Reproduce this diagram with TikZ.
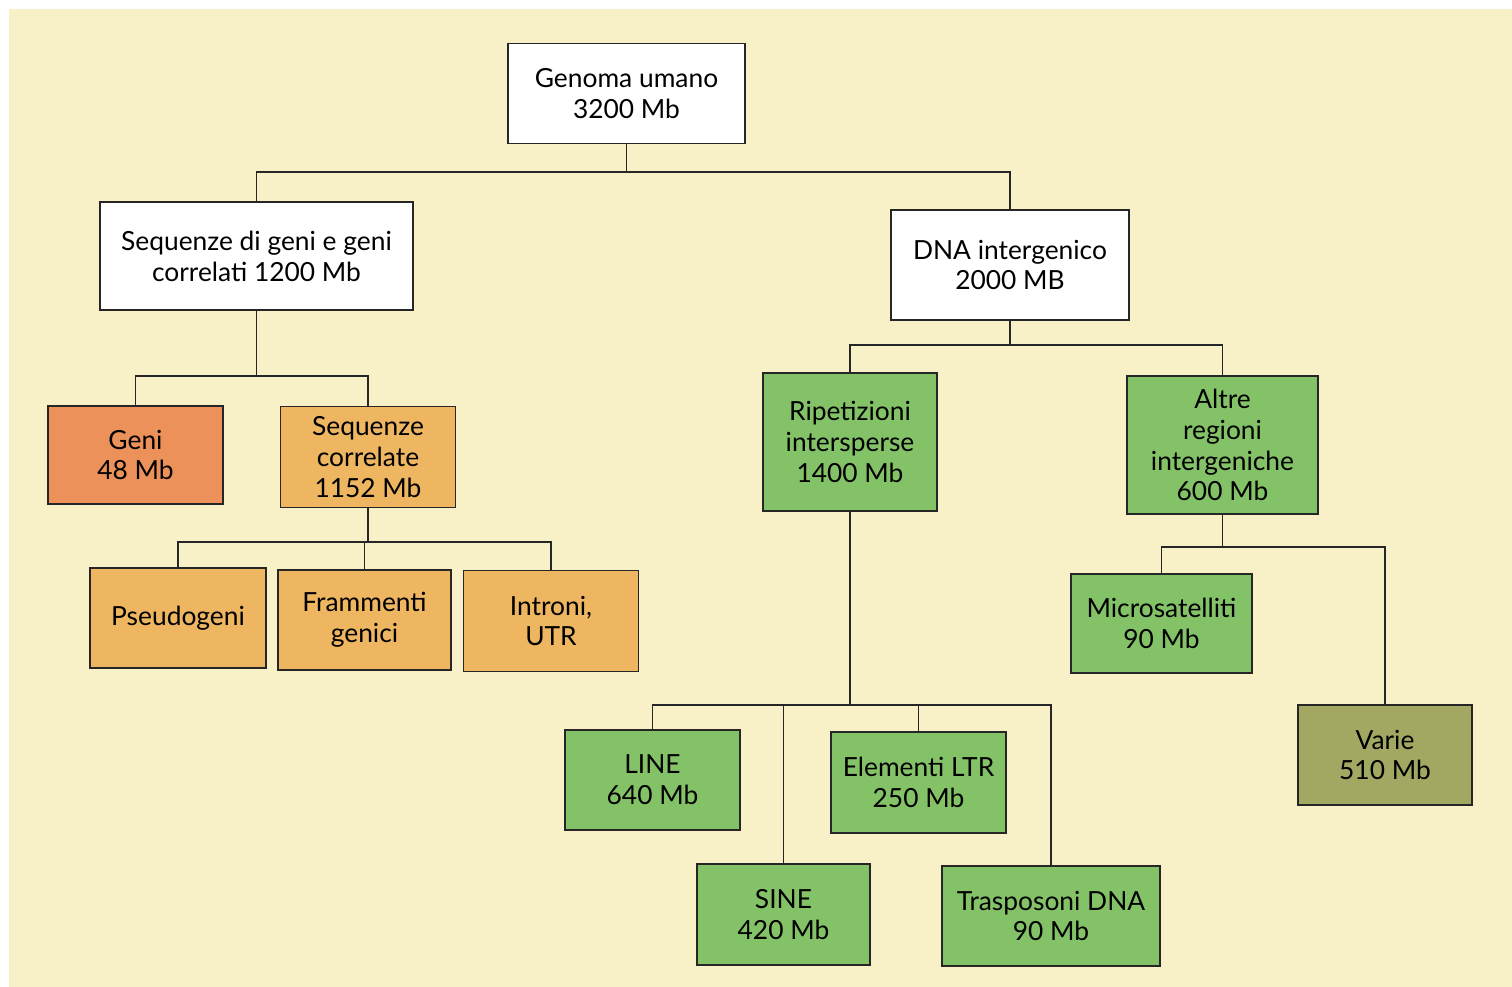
\documentclass[tikz,border=0pt]{standalone}
\usepackage{fontspec}
\setmainfont{Lato}
\usetikzlibrary{positioning}
\definecolor{paper}{HTML}{F8F1C8}
\definecolor{geneorange}{HTML}{EC9159}
\definecolor{seqorange}{HTML}{EEB660}
\definecolor{repgreen}{HTML}{84C268}
\definecolor{olive}{HTML}{A2A862}
\tikzset{
  box/.style={draw=black!85, line width=1.1pt, align=center, inner sep=2pt,
    font=\fontsize{15}{17.6}\selectfont},
  link/.style={line width=0.9pt, black!85}
}
\begin{document}
\begin{tikzpicture}[x=0.02cm, y=-0.02cm]
                    % page and paper tone
                    \fill[white] (0,0) rectangle (1512,987);
                    \fill[paper] (9,9) rectangle (1512,987);
                    \useasboundingbox (0,0) rectangle (1512,987);
                    % top levels
                    \node[box, fill=white, minimum width=4.74cm, minimum height=2cm] (root) at (626.5,93.5) {Genoma umano\\3200 Mb};
                    \node[box, fill=white, minimum width=6.26cm, minimum height=2.16cm] (geneseq) at (256.5,256) {Sequenze di geni e geni\\correlati 1200 Mb};
                    \node[box, fill=white, minimum width=4.76cm, minimum height=2.2cm] (interg) at (1010,265) {DNA intergenico\\2000 MB};
                    % gene side
                    \node[box, fill=geneorange, minimum width=3.5cm, minimum height=1.96cm] (geni) at (135.5,455) {Geni\\48 Mb};
                    \node[box, fill=seqorange, minimum width=3.5cm, minimum height=2.02cm] (seqcorr) at (368,457) {Sequenze\\correlate\\1152 Mb};
                    \node[box, fill=seqorange, minimum width=3.52cm, minimum height=2cm] (pseudo) at (178,618) {Pseudogeni};
                    \node[box, fill=seqorange, minimum width=3.46cm, minimum height=2cm] (framm) at (364.5,620) {Frammenti\\genici};
                    \node[box, fill=seqorange, minimum width=3.5cm, minimum height=2.02cm] (introni) at (551,621) {Introni,\\UTR};
                    % intergenic side
                    \node[box, fill=repgreen, minimum width=3.48cm, minimum height=2.76cm] (ripet) at (850,442) {Ripetizioni\\intersperse\\1400 Mb};
                    \node[box, fill=repgreen, minimum width=3.82cm, minimum height=2.76cm] (altre) at (1222.5,445) {Altre\\regioni\\intergeniche\\600 Mb};
                    \node[box, fill=repgreen, minimum width=3.62cm, minimum height=1.98cm] (micro) at (1161.5,623.5) {Microsatelliti\\90 Mb};
                    \node[box, fill=olive, minimum width=3.48cm, minimum height=2cm] (varie) at (1385,755) {Varie\\510 Mb};
                    \node[box, fill=repgreen, minimum width=3.5cm, minimum height=2cm] (line) at (652.5,780) {LINE\\640 Mb};
                    \node[box, fill=repgreen, minimum width=3.5cm, minimum height=2.02cm] (ltr) at (918.5,782.5) {Elementi LTR\\250 Mb};
                    \node[box, fill=repgreen, minimum width=3.46cm, minimum height=2.02cm] (sine) at (783.5,914.5) {SINE\\420 Mb};
                    \node[box, fill=repgreen, minimum width=4.36cm, minimum height=2cm] (trasp) at (1051,916) {Trasposoni DNA\\90 Mb};
                    % bus points
                    \coordinate (b1) at (626.5,172);
                    \coordinate (b2) at (256.5,376);
                    \coordinate (b3) at (368,542);
                    \coordinate (b4) at (1010,345);
                    \coordinate (b5) at (850,705);
                    \coordinate (b6) at (1222.5,547);
                    % connectors
                    \draw[link] (root.south) -- (b1);
                    \draw[link] (geneseq.north) |- (b1) -| (interg.north);
                    \draw[link] (geneseq.south) -- (b2);
                    \draw[link] (geni.north) |- (b2) -| (seqcorr.north);
                    \draw[link] (seqcorr.south) -- (b3);
                    \draw[link] (pseudo.north) |- (b3) -| (introni.north);
                    \draw[link] (framm.north) -- (framm.north |- b3);
                    \draw[link] (interg.south) -- (b4);
                    \draw[link] (ripet.north) |- (b4) -| (altre.north);
                    \draw[link] (ripet.south) -- (b5);
                    \draw[link] (line.north) |- (b5) -| (trasp.north);
                    \draw[link] (sine.north) -- (sine.north |- b5);
                    \draw[link] (ltr.north) -- (ltr.north |- b5);
                    \draw[link] (altre.south) -- (b6);
                    \draw[link] (micro.north) |- (b6) -| (varie.north);
\end{tikzpicture}
\end{document}
